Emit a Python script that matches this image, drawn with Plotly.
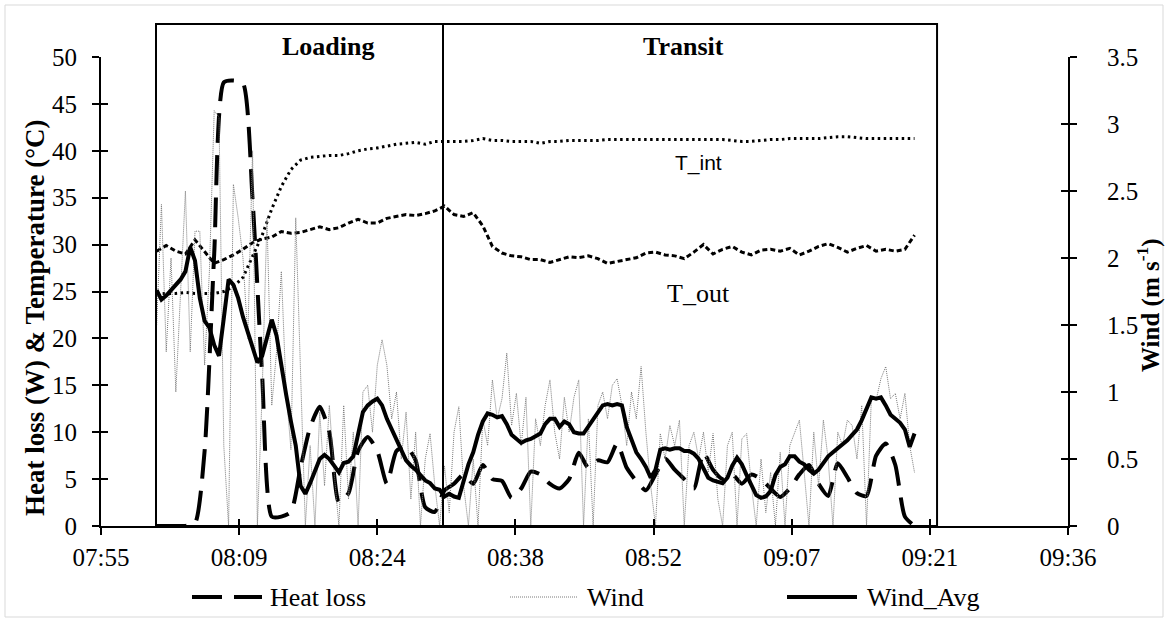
import pandas as pd
import plotly.graph_objects as go

# ---------------- data ----------------
# one-minute series, first sample at 08:01
minute_start = "2000-01-01 08:01:00"
heat_loss = [
    0, 0, 0, 0, 0.3, 8, 29, 47.3, 47.5, 47.2,
    34.8, 16, 1, 1, 1.5, 6.2, 10.5, 12.7, 10, 2.5,
    3.5, 8, 9.5, 8, 4.5, 8, 8.5, 7, 2, 1.5,
    3.8, 4.5, 5.5, 4.5, 6.5, 5, 4.8, 3, 4, 5.8,
    5.5, 4.5, 4, 5, 7.8, 6.2, 7, 6.8, 8.8, 6.2,
    4.8, 3.8, 5.5, 7.2, 6, 5, 4, 7.8, 6, 5,
    5.5, 4.5, 5.5, 5, 4, 3.1, 4, 5.5, 6.5, 4.5,
    3.2, 6.7, 5.2, 3.5, 3.2, 7.5, 8.8, 6.5, 1.0, 0,
]
t_int = [
    24.8, 24.8, 24.8, 24.9, 24.8, 24.8, 24.8, 25.0, 25.5, 26.5,
    28.8, 31.0, 33.8, 36.2, 38.0, 39.0, 39.3, 39.4, 39.5, 39.5,
    39.7, 40.0, 40.2, 40.3, 40.5, 40.7, 40.8, 40.9, 40.7, 41.0,
    41.0, 41.0, 41.0, 41.1, 41.3, 41.1, 41.1, 41.0, 41.0, 41.0,
    40.8, 41.0, 41.0, 41.1, 41.1, 41.1, 41.1, 41.2, 41.2, 41.2,
    41.2, 41.2, 41.2, 41.2, 41.2, 41.2, 41.2, 41.2, 41.2, 41.2,
    41.1, 41.0, 41.0, 41.1, 41.2, 41.2, 41.3, 41.3, 41.3, 41.3,
    41.4, 41.5, 41.5, 41.4, 41.3, 41.3, 41.3, 41.3, 41.3, 41.3,
]
t_out = [
    29.3, 29.9, 29.3, 29.0, 30.5, 29.3, 28.0, 28.4, 28.9, 29.5,
    30.2, 30.6, 30.8, 31.4, 31.2, 31.3, 31.6, 31.9, 31.6, 31.8,
    32.3, 32.7, 32.3, 32.3, 32.8, 33.0, 33.2, 33.1, 33.3, 33.6,
    34.1, 33.2, 33.0, 33.4, 32.0, 29.8, 29.1, 28.8, 28.7, 28.4,
    28.4, 28.1, 28.4, 28.7, 28.6, 28.8, 28.5, 28.0, 28.2, 28.4,
    28.6, 29.1, 29.2, 28.9, 28.8, 28.5, 29.2, 30.0, 29.0, 29.5,
    29.8, 29.2, 28.9, 29.4, 29.5, 29.3, 29.6, 28.9, 29.3, 29.8,
    30.1, 29.7, 29.2, 29.6, 29.9, 29.3, 29.5, 29.3, 29.5, 31.0,
]

# thirty-second wind series, first sample at 08:01
wind = [
    1.5, 2.4, 1.3, 2.0, 1.0, 1.7, 2.5, 1.3, 2.2, 2.2,
    1.2, 1.9, 3.1, 3.05, 0.6, 0.0, 2.55, 2.3, 2.0, 1.4,
    2.8, 0.0, 1.0, 2.3, 0.9, 1.3, 1.9, 1.0, 0.57, 2.3,
    1.14, 0.0, 0.6, 0.0, 0.85, 0.3, 0.9, 0.4, 0.0, 0.9,
    0.2, 0.7, 0.0, 1.0, 1.05, 0.7, 1.2, 1.39, 1.2, 0.8,
    1.0, 0.5, 0.85, 0.2, 0.7, 0.0, 0.5, 0.69, 0.3, 0.0,
    0.45, 0.1, 0.7, 0.89, 0.3, 0.0, 0.5, 0.0, 0.8, 0.6,
    1.09, 0.8, 0.95, 1.29, 0.75, 0.99, 0.6, 0.96, 0.0, 0.8,
    0.6, 0.9, 1.09, 0.7, 0.5, 0.96, 0.7, 0.96, 1.09, 0.0,
    0.8, 0.0, 0.9, 1.0, 0.8, 1.05, 1.1, 0.9, 0.6, 1.0,
    0.8, 1.19, 0.7, 0.3, 0.0, 0.69, 0.5, 0.75, 0.6, 0.79,
    0.0, 0.6, 0.7, 0.5, 0.7, 0.4, 0.69, 0.2, 0.0, 0.6,
    0.7, 0.0, 0.65, 0.69, 0.3, 0.0, 0.5, 0.1, 0.4, 0.0,
    0.55, 0.0, 0.6, 0.7, 0.79, 0.4, 0.0, 0.7, 0.3, 0.79,
    0.5, 0.0, 0.7, 0.6, 0.79, 0.75, 0.5, 0.9, 0.0, 0.95,
    0.94, 1.1, 1.19, 0.95, 0.99, 0.8, 0.99, 0.6, 0.4,
]
wind_avg = [
    1.76, 1.69, 1.72, 1.76, 1.81, 1.84, 1.90, 2.08, 1.98, 1.70,
    1.53, 1.48, 1.35, 1.27, 1.55, 1.84, 1.80, 1.70, 1.56, 1.44,
    1.33, 1.22, 1.27, 1.42, 1.54, 1.42, 1.18, 0.98, 0.78, 0.60,
    0.30, 0.24, 0.32, 0.42, 0.50, 0.53, 0.50, 0.45, 0.40, 0.47,
    0.48, 0.52, 0.70, 0.85, 0.90, 0.93, 0.95, 0.90, 0.80, 0.72,
    0.64, 0.56, 0.49, 0.45, 0.42, 0.38, 0.34, 0.32, 0.28, 0.27,
    0.22, 0.24, 0.22, 0.21, 0.35, 0.46, 0.55, 0.68, 0.78, 0.84,
    0.83, 0.81, 0.82, 0.76, 0.68, 0.65, 0.62, 0.64, 0.65, 0.67,
    0.69, 0.76, 0.80, 0.80, 0.74, 0.78, 0.76, 0.70, 0.69, 0.69,
    0.74, 0.79, 0.84, 0.90, 0.91, 0.90, 0.91, 0.90, 0.74, 0.64,
    0.55, 0.50, 0.44, 0.36, 0.42, 0.57, 0.58, 0.57, 0.58, 0.58,
    0.56, 0.56, 0.54, 0.50, 0.43, 0.36, 0.34, 0.33, 0.32, 0.36,
    0.45, 0.51, 0.46, 0.38, 0.31, 0.23, 0.21, 0.22, 0.26, 0.38,
    0.44, 0.46, 0.52, 0.52, 0.48, 0.46, 0.42, 0.39, 0.42, 0.47,
    0.52, 0.55, 0.58, 0.61, 0.64, 0.68, 0.72, 0.79, 0.88, 0.96,
    0.95, 0.96, 0.90, 0.83, 0.80, 0.77, 0.72, 0.59, 0.69,
]

# operation phases: label and time limits
phase_labels = ["Loading", "Transit"]
phase_bounds = ["2000-01-01 08:00:56", "2000-01-01 08:30:51", "2000-01-01 09:22:21"]

legend_labels = ["Heat loss", "Wind", "Wind_Avg"]
curve_labels = ["T_int", "T_out"]

# axis extents
x_range = ["2000-01-01 07:55:12", "2000-01-01 09:36:00"]
x_tick0 = "2000-01-01 07:55:12"
x_dtick_ms = 864000  # 0.01 day
left_range = [0, 50]
right_range = [0, 3.5]

minute_times = pd.date_range(minute_start, periods=len(heat_loss), freq="1min")
wind_times = pd.date_range(minute_start, periods=len(wind), freq="30s")

# ---------------- layout helpers (pixel -> paper) ----------------
W, H = 1165, 622
PL, PR, PT, PB = 101, 1068, 57, 526


def px(xp):
    return (xp - PL) / (PR - PL)


def py(yp):
    return (PB - yp) / (PB - PT)


SERIF = "Liberation Serif"
SANS = "Liberation Sans"
BLACK = "#000000"
GREY = "#7a7a7a"

HEAT_DASH = "30px,12px"
TOUT_DASH = "5px,3px"
TINT_DASH = "2.5px,3.5px"
WIND_DASH = "1px,1px"

fig = go.Figure()

fig.add_trace(go.Scatter(
    x=minute_times, y=t_int, mode="lines", name="T_int", showlegend=False,
    line=dict(color=BLACK, width=3, dash=TINT_DASH), hoverinfo="skip"))
fig.add_trace(go.Scatter(
    x=minute_times, y=t_out, mode="lines", name="T_out", showlegend=False,
    line=dict(color=BLACK, width=3, dash=TOUT_DASH), hoverinfo="skip"))
fig.add_trace(go.Scatter(
    x=minute_times, y=heat_loss, mode="lines", name=legend_labels[0], showlegend=False,
    line=dict(color=BLACK, width=4, dash=HEAT_DASH, shape="spline", smoothing=0.6)))
fig.add_trace(go.Scatter(
    x=wind_times, y=wind, mode="lines", name=legend_labels[1], yaxis="y2", showlegend=False,
    line=dict(color=GREY, width=1, dash=WIND_DASH)))
fig.add_trace(go.Scatter(
    x=wind_times, y=wind_avg, mode="lines", name=legend_labels[2], yaxis="y2", showlegend=False,
    line=dict(color=BLACK, width=4)))

# empty traces carrying the inner halves of the cross tick marks
fig.add_trace(go.Scatter(x=[], y=[], xaxis="x2", yaxis="y", showlegend=False, hoverinfo="skip"))
fig.add_trace(go.Scatter(x=[], y=[], xaxis="x", yaxis="y3", showlegend=False, hoverinfo="skip"))
fig.add_trace(go.Scatter(x=[], y=[], xaxis="x", yaxis="y4", showlegend=False, hoverinfo="skip"))

tick_font = dict(family=SERIF, size=25, color=BLACK)
common = dict(showgrid=False, zeroline=False, linecolor=BLACK, linewidth=2,
              tickcolor=BLACK, tickwidth=2, ticklen=7, tickfont=tick_font)

fig.update_layout(
    width=W, height=H,
    margin=dict(l=PL, r=W - PR, t=PT, b=H - PB, pad=0),
    paper_bgcolor="white", plot_bgcolor="white",
    showlegend=False,
    xaxis=dict(type="date", range=x_range, tick0=x_tick0, dtick=x_dtick_ms,
               tickformat="%H:%M", ticks="outside", showline=True,
               ticklabelstandoff=1, **common),
    xaxis2=dict(type="date", range=x_range, tick0=x_tick0, dtick=x_dtick_ms,
                overlaying="x", anchor="y", side="bottom", ticks="inside",
                showticklabels=False, showline=False, showgrid=False, zeroline=False,
                tickcolor=BLACK, tickwidth=2, ticklen=7),
    yaxis=dict(range=left_range, dtick=5, ticks="outside", showline=True,
               ticklabelstandoff=10, **common),
    yaxis2=dict(range=right_range, dtick=0.5, overlaying="y", side="right", anchor="x",
                ticks="outside", showline=True, ticklabelstandoff=25, **common),
    yaxis3=dict(range=left_range, dtick=5, overlaying="y", side="left", anchor="x",
                ticks="inside", showticklabels=False, showline=False, showgrid=False,
                zeroline=False, tickcolor=BLACK, tickwidth=2, ticklen=7),
    yaxis4=dict(range=right_range, dtick=0.5, overlaying="y", side="right", anchor="x",
                ticks="inside", showticklabels=False, showline=False, showgrid=False,
                zeroline=False, tickcolor=BLACK, tickwidth=2, ticklen=7),
)

shapes = []
# light frame around the chart
shapes.append(dict(type="rect", xref="paper", yref="paper",
                   x0=px(5), x1=px(1163), y0=py(617), y1=py(5),
                   line=dict(color="#d9d9d9", width=1)))
# phase boxes
box_top = py(24)
shapes.append(dict(type="rect", xref="x", yref="paper",
                   x0=phase_bounds[0], x1=phase_bounds[2], y0=0, y1=box_top,
                   line=dict(color=BLACK, width=2)))
shapes.append(dict(type="line", xref="x", yref="paper",
                   x0=phase_bounds[1], x1=phase_bounds[1], y0=0, y1=box_top,
                   line=dict(color=BLACK, width=2)))

# legend row
legend_y = py(597)
legend_items = [
    (192, 262, 268, dict(color=BLACK, width=4, dash=HEAT_DASH)),
    (510, 577, 585, dict(color=GREY, width=1, dash=WIND_DASH)),
    (787, 857, 865, dict(color=BLACK, width=4)),
]
annotations = []
for label, (xa, xb, xt, line) in zip(legend_labels, legend_items):
    shapes.append(dict(type="line", xref="paper", yref="paper",
                       x0=px(xa), x1=px(xb), y0=legend_y, y1=legend_y, line=line))
    annotations.append(dict(text=label, xref="paper", yref="paper", x=px(xt), y=legend_y,
                            xanchor="left", yanchor="middle", showarrow=False,
                            font=dict(family=SERIF, size=26, color=BLACK)))

# phase titles
for label, xc in zip(phase_labels, [328, 683]):
    annotations.append(dict(text="<b>%s</b>" % label, xref="paper", yref="paper",
                            x=px(xc), y=py(47), xanchor="center", yanchor="middle",
                            showarrow=False, font=dict(family=SERIF, size=26, color=BLACK)))

# curve labels
annotations.append(dict(text=curve_labels[0], xref="paper", yref="paper", x=px(698), y=py(163),
                        xanchor="center", yanchor="middle", showarrow=False,
                        font=dict(family=SANS, size=21, color=BLACK)))
annotations.append(dict(text=curve_labels[1], xref="paper", yref="paper", x=px(698), y=py(293),
                        xanchor="center", yanchor="middle", showarrow=False,
                        font=dict(family=SERIF, size=26, color=BLACK)))

# axis titles
annotations.append(dict(text="<b>Heat loss (W) & Temperature (°C)</b>", xref="paper", yref="paper",
                        x=px(35), y=py(318), xanchor="center", yanchor="middle", textangle=-90,
                        showarrow=False, font=dict(family=SERIF, size=27, color=BLACK)))
annotations.append(dict(text="<b>Wind (m s<sup>-1</sup>)</b>", xref="paper", yref="paper",
                        x=px(1148), y=py(305), xanchor="center", yanchor="middle", textangle=-90,
                        showarrow=False, font=dict(family=SERIF, size=25, color=BLACK)))

fig.update_layout(shapes=shapes, annotations=annotations)

fig.write_html("out.html")
